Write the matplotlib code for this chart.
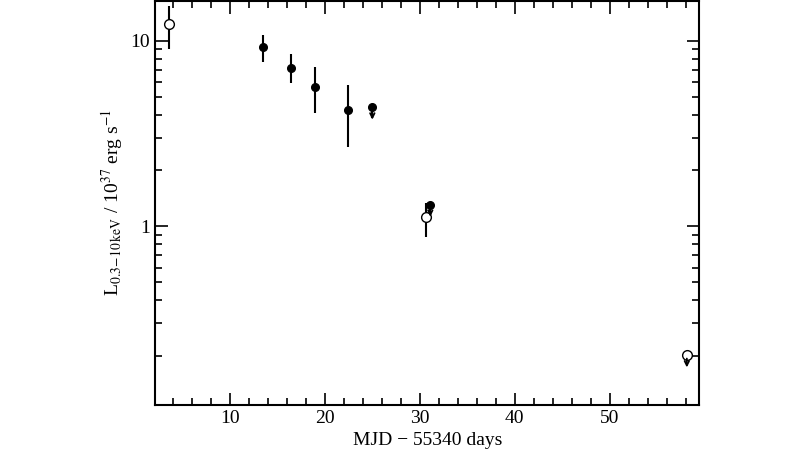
import matplotlib
matplotlib.use("Agg")
import matplotlib.pyplot as plt
from matplotlib.ticker import MultipleLocator, FixedLocator, NullFormatter

plt.rcParams['font.family'] = ['Liberation Serif']
plt.rcParams['mathtext.fontset'] = 'stix'

# detections (filled)
det_x = [13.5, 16.4, 19.0, 22.4]
det_y = [9.27, 7.16, 5.66, 4.26]
det_lo = [7.7, 5.95, 4.1, 2.69]
det_hi = [10.8, 8.5, 7.24, 5.8]
# filled upper limits
ful_x = [25.0, 31.1]
ful_y = [4.37, 1.31]
# open detections
op_x = [3.57, 30.6]
op_y = [12.3, 1.12]
op_lo = [9.05, 0.88]
op_hi = [15.4, 1.33]
# open upper limits
oul_x = [58.1]
oul_y = [0.202]

fig = plt.figure(figsize=(8, 4.5), dpi=100)
ax = fig.add_axes([0.194, 0.1, 0.68, 0.898])
ax.set_yscale('log')
ax.set_xlim(2.15, 59.4)
ax.set_ylim(0.109, 16.4)

ax.errorbar(det_x, det_y, yerr=[[y - l for y, l in zip(det_y, det_lo)], [h - y for y, h in zip(det_y, det_hi)]],
            fmt='o', color='black', ms=5.5, elinewidth=1.5, capsize=0)
ax.errorbar(op_x, op_y, yerr=[[y - l for y, l in zip(op_y, op_lo)], [h - y for y, h in zip(op_y, op_hi)]],
            fmt='o', mfc='white', mec='black', color='black', ms=7, elinewidth=1.5, capsize=0, zorder=2)
ax.errorbar(ful_x, ful_y, yerr=[[y * 0.12 for y in ful_y], [0] * len(ful_y)], uplims=False, lolims=False,
            fmt='o', color='black', ms=5.5, elinewidth=1.5, capsize=0)
for x, y in zip(ful_x, ful_y):
    ax.annotate('', xy=(x, y * 0.86), xytext=(x, y), arrowprops=dict(arrowstyle='->', lw=1.3, color='black', mutation_scale=8, shrinkA=0, shrinkB=0))
ax.plot(oul_x, oul_y, 'o', mfc='none', mec='black', ms=7)
for x, y in zip(oul_x, oul_y):
    ax.annotate('', xy=(x, y * 0.86), xytext=(x, y * 0.96), arrowprops=dict(arrowstyle='->', lw=1.3, color='black', mutation_scale=8, shrinkA=0, shrinkB=0))

ax.xaxis.set_major_locator(MultipleLocator(10))
ax.xaxis.set_minor_locator(MultipleLocator(2))
ax.yaxis.set_major_locator(FixedLocator([1, 10]))
ax.set_yticklabels(['1', '10'])
ax.yaxis.set_minor_locator(FixedLocator([0.2, 0.3, 0.4, 0.5, 0.6, 0.7, 0.8, 0.9, 2, 3, 4, 5, 6, 7, 8, 9]))
ax.yaxis.set_minor_formatter(NullFormatter())
ax.tick_params(which='both', direction='in', top=True, right=True, labelsize=14, width=1.2)
ax.tick_params(which='major', length=9)
ax.tick_params(which='minor', length=5)
for s in ax.spines.values():
    s.set_linewidth(1.5)
ax.set_xlabel('MJD − 55340 days', fontsize=14, labelpad=4)
ax.set_ylabel(r'L$_{\mathrm{0.3\!-\!10\,keV}}$ / 10$^{37}$ erg s$^{-1}$', fontsize=14)
fig.savefig('out.png', dpi=100)
